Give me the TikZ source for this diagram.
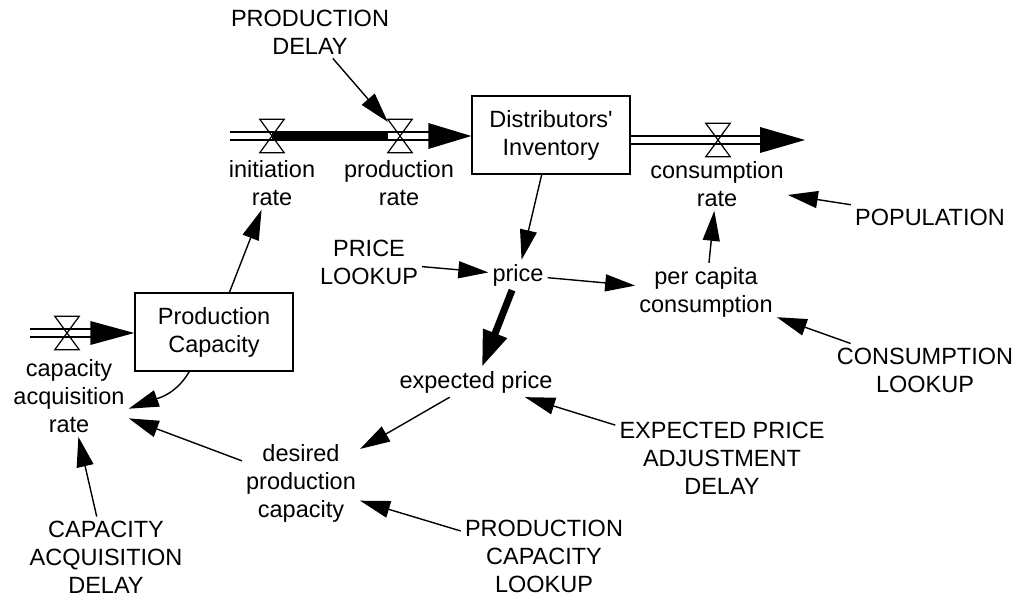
\documentclass[tikz,border=0pt]{standalone}
\usepackage{fontspec}
\setmainfont{Liberation Sans}
\usetikzlibrary{arrows.meta}

\tikzset{
  var/.style={align=center, inner sep=4pt, font=\fontsize{23.5}{28}\selectfont},
  stock/.style={draw, line width=1.4pt, minimum width=158pt, minimum height=78pt,
    align=center, font=\fontsize{23.5}{28}\selectfont},
  valve/.style={minimum width=24pt, minimum height=33pt, inner sep=0pt},
  pipe/.style={double, double distance=6.5pt, line width=1.4pt},
  link/.style={-{Triangle[length=30pt,width=17pt]}, line width=1.4pt},
  thicklink/.style={-{Triangle[length=36pt,width=24pt]}, line width=7pt},
}

\begin{document}
\begin{tikzpicture}[x=1pt,y=1pt]
  \useasboundingbox (0,0) rectangle (1016,597);
  % stocks
  \node[stock] (inv) at (551,462) {Distributors\textquotesingle\\Inventory};
  \node[stock] (pcap) at (214,265) {Production\\Capacity};

  % valves and pipe ends
  \node[valve] (vinit) at (272,461) {};
  \node[valve] (vprod) at (400,461) {};
  \node[valve] (vcons) at (718,457) {};
  \node[valve] (vcap) at (67,264) {};
  \coordinate (topsrc) at (230,461);
  \coordinate (conssink) at (805,457);
  \coordinate (capsrc) at (30,264);

  % pipes
  \draw[pipe] (topsrc) -- ([xshift=-40pt]topsrc -| inv.west);
  \draw[line width=9pt] (vinit.center) -- (vprod.west);
  \fill (topsrc -| inv.west) -- ++(-43,13) -- ++(0,-26) -- cycle;
  \draw[pipe] (conssink -| inv.east) -- ([xshift=-40pt]conssink);
  \fill (conssink) -- ++(-45,13) -- ++(0,-26) -- cycle;
  \draw[pipe] (capsrc) -- ([xshift=-40pt]capsrc -| pcap.west);
  \fill (capsrc -| pcap.west) -- ++(-44,12) -- ++(0,-24) -- cycle;
  \foreach \v in {vinit,vprod,vcons,vcap} {
    \draw[line width=1.2pt] (\v.north west) -- (\v.north east) -- (\v.center) -- cycle
      (\v.south west) -- (\v.south east) -- (\v.center) -- cycle;
  }

  % variables
  \node[var] (pdelay) at (310,565) {PRODUCTION\\DELAY};
  \node[var] (linit) at (272,414) {initiation\\rate};
  \node[var] (lprod) at (399,414) {production\\rate};
  \node[var] (lcons) at (717,413) {consumption\\rate};
  \node[var] (lcap) at (69,201) {capacity\\acquisition\\rate};
  \node[var] (plookup) at (369,335) {PRICE\\LOOKUP};
  \node[var] (price) at (518,322) {price};
  \node[var] (percap) at (706,305) {per capita\\consumption};
  \node[var] (pop) at (930,380) {POPULATION};
  \node[var] (clookup) at (925,227) {CONSUMPTION\\LOOKUP};
  \node[var] (expprice) at (476,215) {expected price};
  \node[var] (epad) at (722,139) {EXPECTED PRICE\\ADJUSTMENT\\DELAY};
  \node[var] (desired) at (301,114) {desired\\production\\capacity};
  \node[var] (pclookup) at (544,41) {PRODUCTION\\CAPACITY\\LOOKUP};
  \node[var] (cadelay) at (106,40) {CAPACITY\\ACQUISITION\\DELAY};

  % links
  \draw[link] (pdelay) -- (vprod);
  \draw[link] (pcap) -- (linit);
  \draw[link] (pcap.-122) to[out=-120,in=20] (lcap.-12);
  \draw[link] (inv) -- (price);
  \draw[link] (plookup) -- (price);
  \draw[link] (price) -- (percap);
  \draw[thicklink] (price) -- (expprice);
  \draw[link] (percap) -- (lcons);
  \draw[link] (pop) -- (lcons);
  \draw[link] (clookup) -- (percap);
  \draw[link] (epad) -- (expprice);
  \draw[link] (expprice) -- (desired);
  \draw[link] (desired) -- (lcap);
  \draw[link] (pclookup) -- (desired);
  \draw[link] (cadelay) -- (lcap);
\end{tikzpicture}
\end{document}
